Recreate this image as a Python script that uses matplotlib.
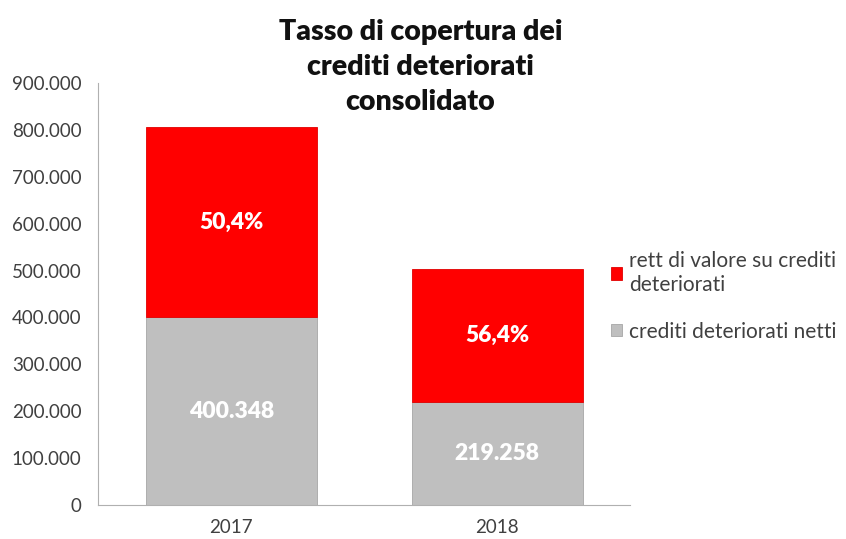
import matplotlib.pyplot as plt
import numpy as np

plt.rcParams['font.family'] = ['Lato', 'DejaVu Sans']

years = ['2017', '2018']
netti = [400348, 219258]
copertura = [50.4, 56.4]
# rettifiche derived from coverage ratio
rett = [n * c / (100 - c) for n, c in zip(netti, copertura)]

fig = plt.figure(figsize=(8.46, 5.39), dpi=100)
ax = fig.add_axes([0.116, 0.063, 0.629, 0.783])

x = np.arange(len(years))
w = 0.643
b1 = ax.bar(x, netti, w, color='#bfbfbf', edgecolor='#a6a6a6', linewidth=0.6,
            label='crediti deteriorati netti')
b2 = ax.bar(x, rett, w, bottom=netti, color='#ff0000', edgecolor='#e00000',
            linewidth=0.6, label='rett di valore su crediti\ndeteriorati')

for i in range(len(years)):
    ax.text(x[i], netti[i] / 2, f'{netti[i]:,}'.replace(',', '.'), ha='center',
            va='center', color='white', fontsize=16.5, fontweight='heavy')
    ax.text(x[i], netti[i] + rett[i] / 2, f'{copertura[i]}%'.replace('.', ','),
            ha='center', va='center', color='white', fontsize=16.5, fontweight='heavy')

ax.set_xlim(-0.5, 1.5)
ax.set_ylim(0, 900000)
ax.set_yticks(np.arange(0, 900001, 100000))
ax.set_yticklabels(['0'] + [f'{v:,}'.replace(',', '.') for v in range(100000, 900001, 100000)])
ax.set_xticks(x)
ax.set_xticklabels(years)
ax.tick_params(axis='both', length=0, labelsize=13.5, colors='#404040')
ax.tick_params(axis='y', pad=12)
ax.tick_params(axis='x', pad=10)
for s in ['top', 'right']:
    ax.spines[s].set_visible(False)
for s in ['left', 'bottom']:
    ax.spines[s].set_color('#b0b0b0')

fig.text(0.497, 0.965, 'Tasso di copertura dei\ncrediti deteriorati\nconsolidato',
         ha='center', va='top', fontsize=20.5, fontweight='heavy', linespacing=1.42,
         color='#111111')

handles = [b2, b1]
leg = fig.legend(handles, [h.get_label() for h in handles], loc='center left',
                 bbox_to_anchor=(0.7, 0.45), frameon=False, fontsize=15,
                 handlelength=0.55, handleheight=0.55, handletextpad=0.3,
                 labelspacing=1.3)
for t in leg.get_texts():
    t.set_color('#404040')

fig.savefig('out.png', dpi=100)
